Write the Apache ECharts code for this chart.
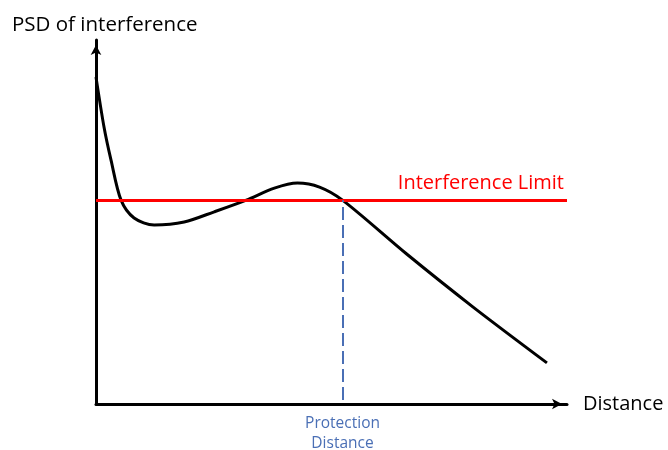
<!DOCTYPE html>
<html>
<head>
<meta charset="utf-8">
<script src="https://cdn.jsdelivr.net/npm/echarts@6/dist/echarts.min.js"></script>
<style>html,body{margin:0;padding:0;background:#fff;}#c{width:668px;height:450px;}</style>
</head>
<body>
<div id="c"></div>
<script>
// Distance (0-100) and PSD of interference (0-100)
const distance = [0, 1.7, 3.19, 5.32, 8.09, 12.34, 18.72, 25.11, 31.91, 37.87, 42.77, 47.45, 52.34, 65.96, 80.0, 95.74];
const psd = [89.8, 76.1, 67.0, 56.0, 51.1, 49.2, 50.0, 52.8, 56.0, 59.3, 60.7, 59.6, 56.0, 41.2, 26.7, 11.3];
const interferenceLimit = 56.0;
const protectionDistance = 52.34;
const dashedBottom = 1.1;

const FONT = 'Open Sans';
const chart = echarts.init(document.getElementById('c'), null, {renderer: 'canvas'});
const axisCommon = {
  type: 'value', min: 0, max: 100,
  axisLine: {show: true, onZero: false, symbol: ['none', 'arrow'], symbolSize: [8, 10], symbolOffset: [0, -5],
    lineStyle: {color: '#000', width: 3}},
  axisTick: {show: false}, axisLabel: {show: false}, splitLine: {show: false}
};
chart.setOption({
  animation: false,
  backgroundColor: '#fff',
  title: {
    text: 'PSD of interference', left: 12, top: 13, padding: 0,
    textStyle: {fontFamily: FONT, fontSize: 20.5, fontWeight: 'normal', color: '#000', lineHeight: 24}
  },
  grid: {left: 96, right: 101, top: 40, bottom: 46},
  xAxis: Object.assign({}, axisCommon, {
    name: 'Distance', nameLocation: 'end', nameGap: 16,
    nameTextStyle: {fontFamily: FONT, fontSize: 20, color: '#000', verticalAlign: 'middle'}
  }),
  yAxis: Object.assign({}, axisCommon),
  series: [
    {
      type: 'line', data: [], z: 1, silent: true,
      markLine: {
        silent: true, symbol: ['none', 'none'], animation: false,
        data: [
          {
            yAxis: interferenceLimit,
            lineStyle: {color: '#ff0000', width: 3, type: 'solid'},
            label: {show: true, position: 'insideEndTop', formatter: 'Interference Limit', distance: [3, 7],
              fontFamily: FONT, fontSize: 20, color: '#ff0000'}
          },
          [
            {coord: [protectionDistance, dashedBottom],
              lineStyle: {color: '#4a6fb5', width: 2, type: [13, 5]},
              label: {show: true, position: 'start', formatter: 'Protection\nDistance', distance: 14,
                fontFamily: FONT, fontSize: 15.5, lineHeight: 20, color: '#4a6fb5'}},
            {coord: [protectionDistance, interferenceLimit]}
          ]
        ]
      }
    },
    {
      type: 'line', z: 3, smooth: 0.3, showSymbol: false, symbol: 'none',
      data: distance.map((d, i) => [d, psd[i]]),
      lineStyle: {color: '#000', width: 3}
    }
  ]
});
</script>
</body>
</html>
